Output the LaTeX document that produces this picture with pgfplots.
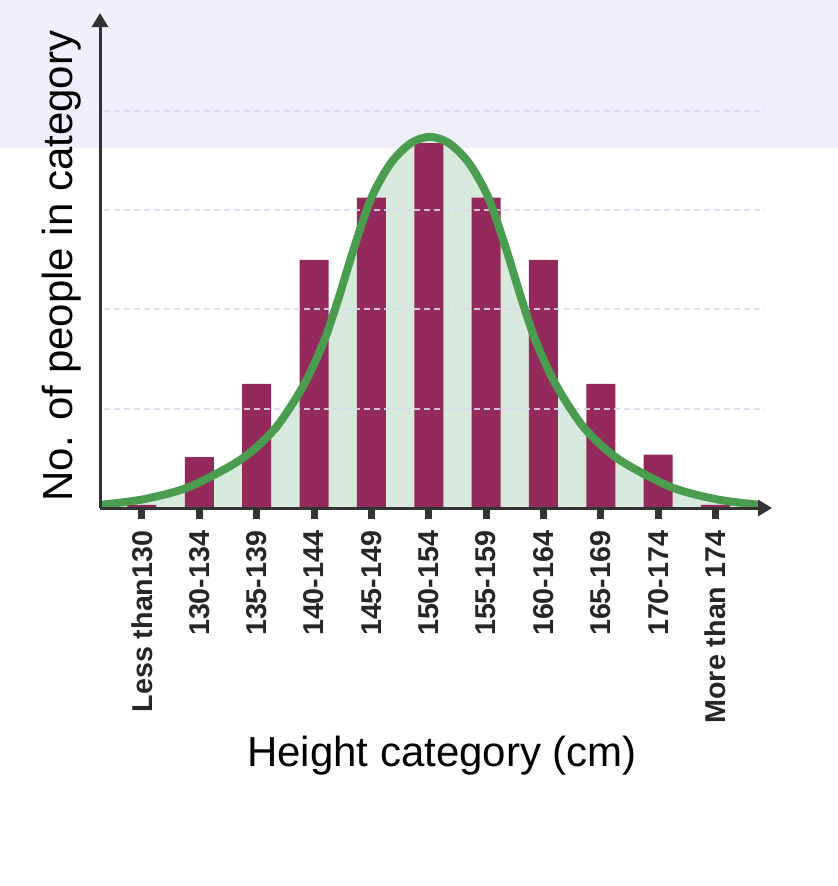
\documentclass[border=0pt]{standalone}
\usepackage{pgfplots}
\pgfplotsset{compat=1.18}
\usepackage{fontspec}
\setmainfont{Liberation Sans}
\usetikzlibrary{arrows.meta}
\definecolor{barc}{HTML}{942A5B}
\definecolor{curvec}{HTML}{4A9D4F}
\definecolor{fillc}{HTML}{D6E9DC}
\definecolor{lav}{HTML}{EFEEFB}
\definecolor{gridc}{HTML}{D9D9EC}
\definecolor{axc}{HTML}{333333}
\pgfplotstableread{
x y
-0.732 0.25
0.02 0.70
0.82 1.70
1.72 3.90
2.32 6.40
2.82 9.90
3.17 13.40
3.42 16.80
3.70 21.00
4.00 25.00
4.34 27.80
4.69 29.40
5.02 29.90
5.35 29.40
5.70 27.80
6.04 25.00
6.34 21.00
6.62 16.80
6.87 13.40
7.22 9.90
7.72 6.40
8.32 3.90
9.22 1.70
10.02 0.70
10.776 0.25
}\curvedata
\pgfplotstableread{
x y
0 0.25
1 4.1
2 10.0
3 20.0
4 25.0
5 29.4
6 25.0
7 20.0
8 10.0
9 4.3
10 0.25
}\bardata
\begin{document}
\begin{tikzpicture}
% background of the picture (px scale 0.3pt)
\fill[white] (-42.6pt,-113.4pt) rectangle (208.8pt,152.4pt);
\fill[lav] (-42.6pt,108pt) rectangle (208.8pt,152.4pt);
\begin{axis}[
  at={(0,0)}, anchor=origin,
  scale only axis,
  width=201.6pt, height=148.5pt,
  xmin=-0.732, xmax=10.985,
  ymin=0, ymax=39.88,
  axis lines=left,
  axis line style={axc, line width=0.9pt, -{Triangle[length=4.2pt,width=4.8pt]}},
  axis on top,
  xtick={0,1,2,3,4,5,6,7,8,9,10},
  xticklabels={Less than130,130-134,135-139,140-144,145-149,150-154,155-159,160-164,165-169,170-174,More than 174},
  ytick=\empty,
  tick align=outside,
  major tick length=3.4pt,
  every tick/.style={axc, line width=2.1pt},
  xticklabel style={rotate=90, anchor=east, font=\fontsize{8.6}{10}\selectfont\bfseries, text=black!85, inner sep=1pt, xshift=-2.2pt},
  every axis x label/.style={at={(rel axis cs:0.509,-0.501)}, anchor=center},
  every axis y label/.style={at={(rel axis cs:-0.0565,0.4888)}, anchor=center, rotate=90},
  xlabel={Height category (cm)},
  ylabel={No. of people in category},
  label style={font=\fontsize{12.6}{14}\selectfont},
  clip=false,
]
% light fill under the curve
\addplot[fill=fillc, draw=none, smooth, tension=0.5] table[x=x,y=y] {\curvedata} \closedcycle;
% bars
\addplot[ybar, bar width=8.7pt, bar shift=0pt, fill=barc, draw=none] table[x=x,y=y] {\bardata};
% dashed grid lines
\foreach \g in {8,16,24,32} {
  \edef\tmp{\noexpand\draw[gridc, opacity=0.85, line width=0.6pt, dash pattern=on 1.8pt off 1.2pt] (axis cs:-0.663,\g) -- (axis cs:10.863,\g);}
  \tmp
}
% curve
\addplot[curvec, line width=2.4pt, smooth, tension=0.5] table[x=x,y=y] {\curvedata};
\end{axis}
\end{tikzpicture}
\end{document}
